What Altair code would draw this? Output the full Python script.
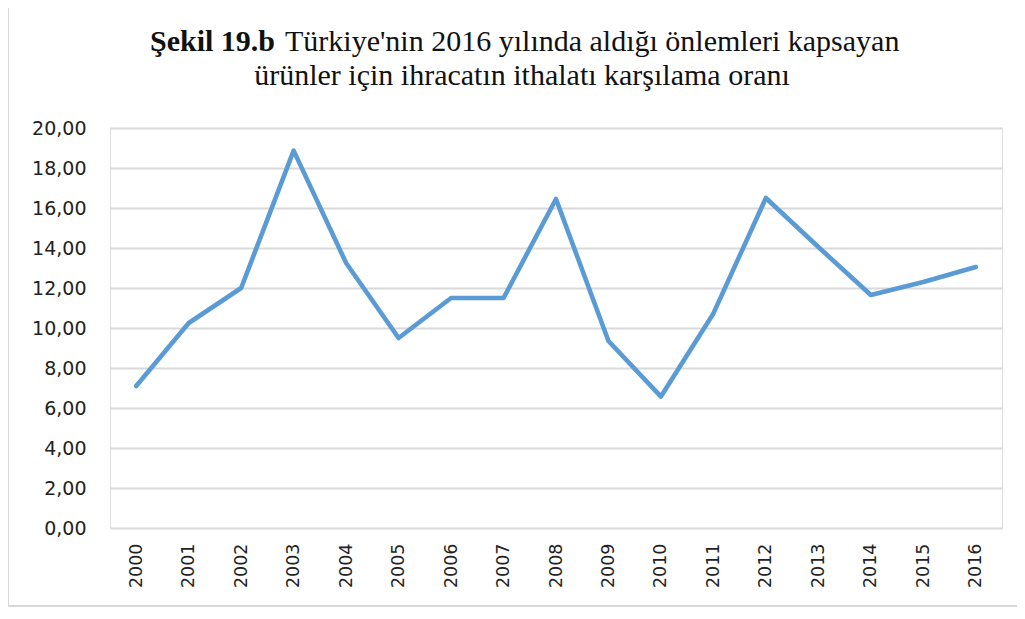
import altair as alt
import pandas as pd

years = [str(y) for y in range(2000, 2017)]
values = [7.10, 10.25, 12.00, 18.87, 13.25, 9.50, 11.50, 11.50, 16.45, 9.35,
          6.57, 10.73, 16.50, 14.05, 11.65, 12.30, 13.05]
y_ticks = [0, 2, 4, 6, 8, 10, 12, 14, 16, 18, 20]

title_bold = "Şekil 19.b"
title_rest = "Türkiye'nin 2016 yılında aldığı önlemleri kapsayan"
title_line2 = "ürünler için ihracatın ithalatı karşılama oranı"

df = pd.DataFrame({"year": years, "value": values})

base = alt.Chart(df)

line = base.mark_line(color="#5B9BD5", strokeWidth=4.6, strokeCap="round", strokeJoin="round").encode(
    x=alt.X("year:O", scale=alt.Scale(type="point", padding=0.5),
            axis=alt.Axis(title=None, labelAngle=-90, labelFont="DejaVu Sans", labelFontSize=17.5,
                          labelColor="#222", labelPadding=15, ticks=False, domain=False, grid=False)),
    y=alt.Y("value:Q", scale=alt.Scale(domain=[0, 20], nice=False),
            axis=alt.Axis(title=None, values=y_ticks,
                          labelExpr="replace(format(datum.value, '.2f'), '.', ',')",
                          labelFont="DejaVu Sans", labelFontSize=19, labelColor="#222",
                          labelPadding=24, ticks=False, domain=False,
                          grid=True, gridColor="#d9d9d9", gridWidth=2)),
)

tfont = "Liberation Serif"
tsize = 30

t1 = alt.Chart(pd.DataFrame({"t": [title_bold]})).mark_text(
    font=tfont, fontSize=tsize, fontWeight="bold", align="left", baseline="alphabetic", color="#111"
).encode(text="t:N", x=alt.value(40), y=alt.value(-77))

t2 = alt.Chart(pd.DataFrame({"t": [title_rest]})).mark_text(
    font=tfont, fontSize=tsize, align="left", baseline="alphabetic", color="#111"
).encode(text="t:N", x=alt.value(175), y=alt.value(-77))

t3 = alt.Chart(pd.DataFrame({"t": [title_line2]})).mark_text(
    font=tfont, fontSize=tsize, align="center", baseline="alphabetic", color="#111"
).encode(text="t:N", x=alt.value(412), y=alt.value(-43))

border_left = alt.Chart(pd.DataFrame({"a": [0]})).mark_rule(color="#d9d9d9", strokeWidth=2).encode(
    x=alt.value(-102), y=alt.value(-128), y2=alt.value(478))
border_bottom = alt.Chart(pd.DataFrame({"a": [0]})).mark_rule(color="#d9d9d9", strokeWidth=2).encode(
    x=alt.value(-102), x2=alt.value(915), y=alt.value(478))

chart = alt.layer(line, t1, t2, t3, border_left, border_bottom).properties(
    width=892, height=400,
    autosize=alt.AutoSizeParams(type="none"),
    padding={"left": 102, "top": 120, "right": 15, "bottom": 80},
).configure_view(stroke=None).configure(background="white")

chart.save("out.html", embed_options={"renderer": "svg", "actions": False})
